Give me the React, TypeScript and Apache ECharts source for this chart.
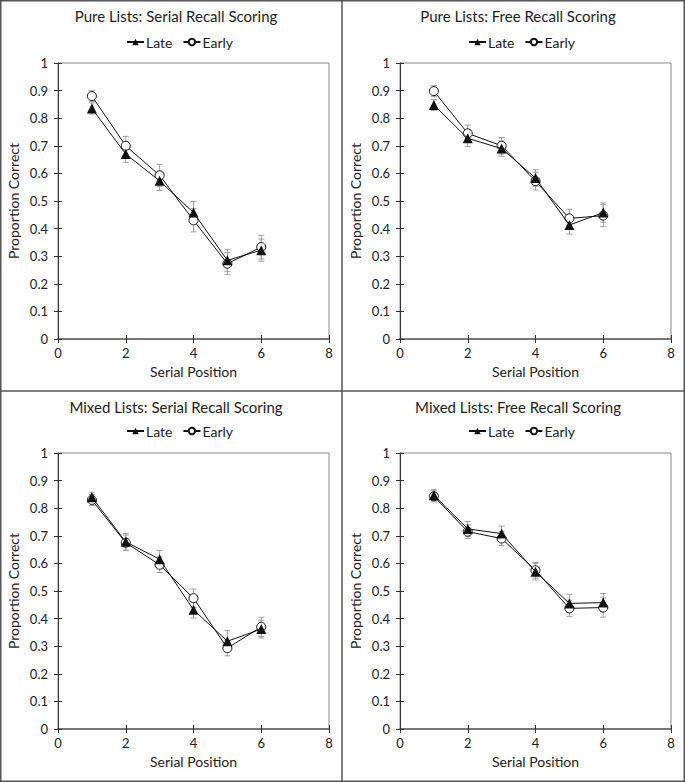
import React, { useEffect, useRef } from "react";
import * as echarts from "echarts";

const positions = [1, 2, 3, 4, 5, 6];
const panelTitles = [
  "Pure Lists: Serial Recall Scoring",
  "Pure Lists: Free Recall Scoring",
  "Mixed Lists: Serial Recall Scoring",
  "Mixed Lists: Free Recall Scoring",
];
const lateValues = [
  [0.835, 0.67, 0.573, 0.458, 0.285, 0.322],
  [0.848, 0.727, 0.69, 0.583, 0.413, 0.458],
  [0.84, 0.678, 0.615, 0.432, 0.318, 0.362],
  [0.847, 0.725, 0.708, 0.57, 0.455, 0.458],
];
const earlyValues = [
  [0.88, 0.7, 0.593, 0.43, 0.273, 0.333],
  [0.898, 0.745, 0.7, 0.572, 0.437, 0.447],
  [0.83, 0.675, 0.595, 0.474, 0.293, 0.37],
  [0.843, 0.715, 0.69, 0.575, 0.437, 0.44],
];
const lateErrors = [
  [0.02, 0.03, 0.035, 0.04, 0.04, 0.04],
  [0.02, 0.03, 0.028, 0.03, 0.033, 0.035],
  [0.018, 0.03, 0.032, 0.03, 0.038, 0.032],
  [0.02, 0.027, 0.027, 0.03, 0.033, 0.033],
];
const earlyErrors = [
  [0.02, 0.034, 0.04, 0.042, 0.04, 0.043],
  [0.02, 0.03, 0.03, 0.032, 0.033, 0.04],
  [0.02, 0.028, 0.028, 0.033, 0.028, 0.035],
  [0.02, 0.025, 0.025, 0.028, 0.03, 0.035],
];
const yTicks = [0, 0.1, 0.2, 0.3, 0.4, 0.5, 0.6, 0.7, 0.8, 0.9, 1];
const xTicks = [0, 2, 4, 6, 8];

const FONT = "Lato";
const W = 685;
const H = 782;
const PW = 342;
const PH = 391;

export default function App() {
  const ref = useRef<HTMLDivElement>(null);
  useEffect(() => {
    if (!ref.current) return;
    const chart = echarts.init(ref.current, undefined, { renderer: "svg" });
    const grids: any[] = [];
    const xAxes: any[] = [];
    const yAxes: any[] = [];
    const titles: any[] = [];
    const legends: any[] = [];
    const series: any[] = [];

    const errRender = (params: any, api: any) => {
      const x = api.value(0);
      const lo = api.coord([x, api.value(1)]);
      const hi = api.coord([x, api.value(2)]);
      const cw = 3;
      const st = { stroke: "#a0a0a0", lineWidth: 1 };
      return {
        type: "group",
        children: [
          { type: "line", shape: { x1: hi[0], y1: hi[1], x2: lo[0], y2: lo[1] }, style: st },
          { type: "line", shape: { x1: hi[0] - cw, y1: hi[1], x2: hi[0] + cw, y2: hi[1] }, style: st },
          { type: "line", shape: { x1: lo[0] - cw, y1: lo[1], x2: lo[0] + cw, y2: lo[1] }, style: st },
        ],
      };
    };

    for (let i = 0; i < 4; i++) {
      const c = i % 2;
      const r = Math.floor(i / 2);
      const ox = c * PW;
      const oy = r * PH;
      const top = 63 + oy - (r ? 1 : 0);
      grids.push({
        left: 58 + ox,
        top,
        width: 271,
        height: 276,
        show: true,
        borderColor: "#8a8a8a",
        borderWidth: 1,
        backgroundColor: "transparent",
      });
      titles.push({
        text: panelTitles[i],
        left: 171 + ox,
        top: 3 + oy,
        textAlign: "center",
        textStyle: { fontFamily: FONT, fontSize: 15, fontWeight: "normal", color: "#222" },
      });
      legends.push({
        data: ["Late", "Early"],
        left: 121 + ox,
        top: 30 + oy - (r ? 2 : 0),
        itemWidth: 17,
        itemHeight: 8,
        itemGap: 10,
        textStyle: { fontFamily: FONT, fontSize: 14, color: "#222", padding: [0, 0, 0, -3] },
        selectedMode: false,
      });
      xAxes.push({
        gridIndex: i,
        type: "value",
        min: 0,
        max: 8,
        interval: 2,
        name: "Serial Position",
        nameLocation: "middle",
        nameGap: 25,
        nameTextStyle: { fontFamily: FONT, fontSize: 14, color: "#222" },
        axisLine: { show: true, onZero: false, lineStyle: { color: "#777", width: 2 } },
        axisTick: { show: true, length: 4, lineStyle: { color: "#333" } },
        axisLabel: { fontFamily: FONT, fontSize: 13, color: "#222", margin: 7 },
        splitLine: { show: false },
      });
      yAxes.push({
        gridIndex: i,
        type: "value",
        min: 0,
        max: 1,
        interval: 0.1,
        name: "Proportion Correct",
        nameLocation: "middle",
        nameGap: 38,
        nameTextStyle: { fontFamily: FONT, fontSize: 14, color: "#222" },
        axisLine: { show: true, onZero: false, lineStyle: { color: "#333", width: 1 } },
        axisTick: { show: true, length: 4, lineStyle: { color: "#333" } },
        axisLabel: {
          fontFamily: FONT,
          fontSize: 13,
          color: "#222",
          margin: 10,
          formatter: (v: number) => String(Math.round(v * 10) / 10),
        },
        splitLine: { show: false },
      });
    }
    for (let i = 0; i < 4; i++) {
      xAxes.push({
        gridIndex: i,
        type: "value",
        min: 0,
        max: 8,
        interval: 2,
        position: "bottom",
        axisLine: { show: false },
        axisTick: { show: true, inside: true, length: 4, lineStyle: { color: "#333" } },
        axisLabel: { show: false },
        splitLine: { show: false },
      });
      yAxes.push({
        gridIndex: i,
        type: "value",
        min: 0,
        max: 1,
        interval: 0.1,
        position: "left",
        axisLine: { show: false },
        axisTick: { show: true, inside: true, length: 4, lineStyle: { color: "#333" } },
        axisLabel: { show: false },
        splitLine: { show: false },
      });
    }

    for (let i = 0; i < 4; i++) {
      const errData = (vals: number[], errs: number[]) =>
        positions.map((p, k) => [p, vals[k] - errs[k], vals[k] + errs[k]]);
      series.push({
        type: "custom",
        xAxisIndex: i,
        yAxisIndex: i,
        renderItem: errRender,
        data: errData(lateValues[i], lateErrors[i]),
        z: 1,
        silent: true,
      });
      series.push({
        type: "custom",
        xAxisIndex: i,
        yAxisIndex: i,
        renderItem: errRender,
        data: errData(earlyValues[i], earlyErrors[i]),
        z: 1,
        silent: true,
      });
      series.push({
        name: "Late",
        type: "line",
        xAxisIndex: i,
        yAxisIndex: i,
        data: positions.map((p, k) => [p, lateValues[i][k]]),
        symbol: "triangle",
        symbolSize: 10,
        lineStyle: { color: "#111", width: 1 },
        itemStyle: { color: "#111", borderColor: "#111", borderWidth: 0 },
        z: 3,
      });
      series.push({
        name: "Early",
        type: "line",
        xAxisIndex: i,
        yAxisIndex: i,
        data: positions.map((p, k) => [p, earlyValues[i][k]]),
        symbol: "circle",
        symbolSize: 9,
        showAllSymbol: true,
        lineStyle: { color: "#111", width: 1 },
        itemStyle: { color: "#fff", borderColor: "#111", borderWidth: 1 },
        z: 2,
      });
    }

    const bc = "#555";
    chart.setOption({
      animation: false,
      backgroundColor: "#fff",
      title: titles,
      legend: legends,
      grid: grids,
      xAxis: xAxes,
      yAxis: yAxes,
      series,
      graphic: [
        { type: "rect", shape: { x: 0.75, y: 0.75, width: W - 1.5, height: H - 1.5 }, style: { fill: "none", stroke: bc, lineWidth: 1.5 }, silent: true },
        { type: "line", shape: { x1: PW, y1: 0, x2: PW, y2: H }, style: { stroke: bc, lineWidth: 1.5 }, silent: true },
        { type: "line", shape: { x1: 0, y1: PH, x2: W, y2: PH }, style: { stroke: bc, lineWidth: 1.5 }, silent: true },
      ],
    });
    return () => chart.dispose();
  }, []);
  return (
    <div
      ref={ref}
      style={{ position: "absolute", left: 0, top: 0, width: W, height: H }}
    />
  );
}
